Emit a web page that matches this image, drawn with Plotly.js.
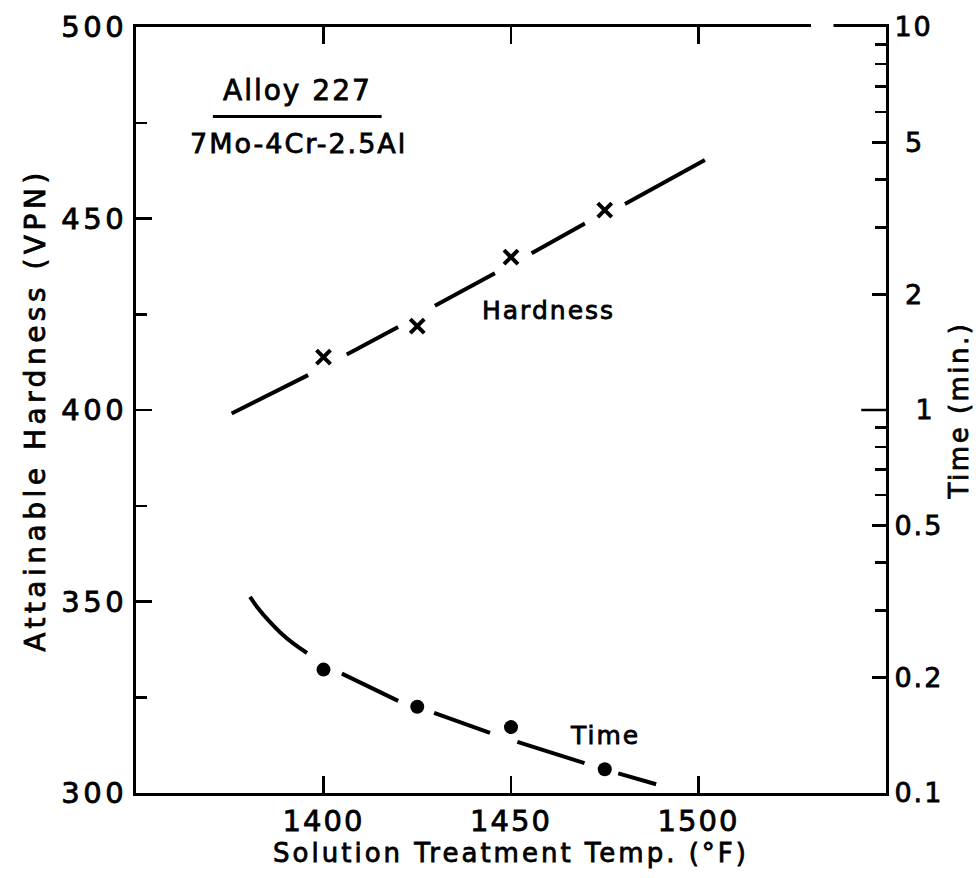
<!DOCTYPE html>
<html>
<head>
<meta charset="utf-8">
<script src="https://cdn.plot.ly/plotly-3.0.1.min.js"></script>
<style>
  html, body { margin: 0; padding: 0; background: #fff; }
  #chart { width: 980px; height: 878px; }
  .main-svg text { stroke: #000; stroke-width: 0.8px; }
  .xtick text, .y2tick text { letter-spacing: 2px; }
  .ytick text { letter-spacing: 3.5px; }
  .xtitle { letter-spacing: 3px; }
  .y2title { letter-spacing: 2.5px; }
  .ytitle { letter-spacing: 4.5px; }
  .annotation-text { letter-spacing: 2px; }
</style>
</head>
<body>
<div id="chart"></div>
<script>
// ---- Data ----
// Hardness (VPN) measured points
const hardTemp = [1400, 1425, 1450, 1475];
const hardVal  = [413.8, 421.9, 439.9, 452.2];
// Hardness fitted dashed line (segments separated by gaps)
const hardLineTemp = [1375.5, 1395.9, null, 1406.2, 1419.9, null, 1429.7, 1445.7, null, 1455.5, 1469.7, null, 1480.4, 1501.7];
const hardLineVal  = [399.1, 409.1, null, 414.5, 421.7, null, 427.2, 435.7, null, 440.9, 448.7, null, 453.8, 465.3];
// Time (min) measured points
const timeTemp = [1400, 1425, 1450, 1475];
const timeVal  = [0.210, 0.168, 0.1486, 0.1153];
// Time fitted dashed curve
const timeLineTemp = [1380.4, 1382.5, 1385.2, 1388.4, 1392.1, 1395.6, null, 1404.9, 1419.9, null, 1429.5, 1444.4, null, 1451.7, 1469.6, null, 1478.6, 1488.7];
const timeLineVal  = [0.325, 0.304, 0.283, 0.263, 0.245, 0.232, null, 0.205, 0.174, null, 0.162, 0.1436, null, 0.136, 0.1197, null, 0.1125, 0.1054];
// Axis ticks
const xTicks = [1400, 1450, 1500];
const yTicks = [300, 350, 400, 450, 500];
const y2Ticks = [0.1, 0.2, 0.5, 1, 2, 5, 10];
const y2TickText = ['0.1', '0.2', '0.5', '\u2008\u20081', '\u20082', '\u20085', '10'];
const y2Minor = [0.3, 0.4, 0.6, 0.7, 0.8, 0.9, 3, 4, 6, 7, 8, 9];

const FONT = 'DejaVu Sans, Liberation Sans, sans-serif';
const INK = '#000';

const traces = [
  {
    x: hardLineTemp, y: hardLineVal, mode: 'lines', type: 'scatter',
    line: {color: INK, width: 4}, connectgaps: false, hoverinfo: 'skip', showlegend: false
  },
  {
    x: hardTemp, y: hardVal, mode: 'markers', type: 'scatter',
    marker: {symbol: 'x-thin', size: 14, line: {color: INK, width: 4}}, showlegend: false
  },
  {
    x: timeLineTemp, y: timeLineVal, yaxis: 'y2', mode: 'lines', type: 'scatter',
    line: {color: INK, width: 4, shape: 'spline', smoothing: 0.8}, connectgaps: false, hoverinfo: 'skip', showlegend: false
  },
  {
    x: timeTemp, y: timeVal, yaxis: 'y2', mode: 'markers', type: 'scatter',
    marker: {symbol: 'circle', size: 14, color: INK}, showlegend: false
  }
];

const layout = {
  width: 980, height: 878,
  margin: {l: 136, r: 94, t: 27, b: 85},
  paper_bgcolor: '#fff', plot_bgcolor: '#fff',
  font: {family: FONT, color: INK, size: 28},
  showlegend: false,
  xaxis: {
    range: [1350, 1550], tickmode: 'array', tickvals: xTicks,
    ticks: 'inside', ticklen: 17, tickwidth: 2.5, tickcolor: INK,
    showline: true, linewidth: 3, linecolor: INK, mirror: 'ticks',
    showgrid: false, zeroline: false,
    tickfont: {family: FONT, size: 29, color: INK},
    title: {text: 'Solution Treatment Temp. (°F)', font: {family: FONT, size: 26, color: INK}, standoff: 6}
  },
  yaxis: {
    range: [300, 500], tickmode: 'array', tickvals: yTicks,
    ticks: 'inside', ticklen: 16, tickwidth: 2.5, tickcolor: INK,
    minor: {dtick: 25, ticks: 'inside', ticklen: 11, tickwidth: 2.5, tickcolor: INK, showgrid: false},
    showline: true, linewidth: 3, linecolor: INK, mirror: false,
    showgrid: false, zeroline: false,
    tickfont: {family: FONT, size: 29, color: INK},
    title: {text: 'Attainable Hardness (VPN)', font: {family: FONT, size: 28, color: INK}, standoff: 8}
  },
  yaxis2: {
    type: 'log', range: [-1, 1], overlaying: 'y', side: 'right',
    tickmode: 'array', tickvals: y2Ticks, ticktext: y2TickText,
    ticks: 'inside', ticklen: 14, tickwidth: 2.5, tickcolor: INK,
    minor: {tickmode: 'array', tickvals: y2Minor, ticks: 'inside', ticklen: 11, tickwidth: 2.5, tickcolor: INK, showgrid: false},
    showline: true, linewidth: 3, linecolor: INK,
    showgrid: false, zeroline: false,
    tickfont: {family: FONT, size: 27, color: INK},
    title: {text: 'Time (min.)', font: {family: FONT, size: 26, color: INK}, standoff: 8}
  },
  annotations: [
    {x: 1393.1, y: 483.4, xref: 'x', yref: 'y', text: 'Alloy 227', showarrow: false,
     font: {family: FONT, size: 28, color: INK}},
    {x: 1393.3, y: 469.6, xref: 'x', yref: 'y', text: '7Mo-4Cr-2.5Al', showarrow: false,
     font: {family: FONT, size: 27, color: INK}},
    {x: 1460.1, y: 426.1, xref: 'x', yref: 'y', text: 'Hardness', showarrow: false,
     font: {family: FONT, size: 25, color: INK}},
    {x: 1475.1, y: 315.1, xref: 'x', yref: 'y', text: 'Time', showarrow: false,
     font: {family: FONT, size: 25, color: INK}}
  ],
  shapes: [
    {type: 'line', xref: 'x', yref: 'y', x0: 1370.5, x1: 1415.5, y0: 476.6, y1: 476.6,
     line: {color: INK, width: 3}},
    {type: 'rect', xref: 'x', yref: 'paper', x0: 1530, x1: 1536, y0: 0.995, y1: 1.005,
     fillcolor: '#fff', line: {width: 0}, layer: 'above'},
    {type: 'line', xref: 'paper', yref: 'y2', x0: 0.967, x1: 1, y0: 1, y1: 1,
     line: {color: INK, width: 2.5}}
  ]
};

Plotly.newPlot('chart', traces, layout, {displayModeBar: false, staticPlot: true});
</script>
</body>
</html>
